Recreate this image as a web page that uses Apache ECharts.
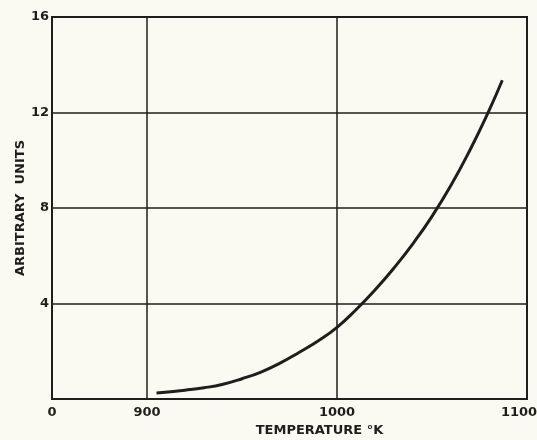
<!DOCTYPE html>
<html>
<head>
<meta charset="utf-8">
<script src="https://cdn.jsdelivr.net/npm/echarts@6/dist/echarts.min.js"></script>
<style>
  html, body { margin: 0; padding: 0; background: #fbfaf2; }
  #chart { width: 537px; height: 440px; }
</style>
</head>
<body>
<div id="chart"></div>
<script>
// Temperature (K) and signal (arbitrary units) along the curve
const temperatures = [905, 920, 930, 940, 950, 960, 970, 980, 990, 1000, 1010, 1020, 1030, 1040, 1050, 1060, 1070, 1080, 1087];
const signal       = [0.25, 0.37, 0.47, 0.62, 0.85, 1.13, 1.5, 1.95, 2.43, 3.0, 3.74, 4.57, 5.49, 6.51, 7.65, 8.95, 10.43, 12.08, 13.35];

// Axis labels
const xTickLabels = { 850: '0', 900: '900', 1000: '1000', 1100: '{edge|1100}' };
const xGridValues = [900, 1000];
const yTickLabels = { 4: '4', 8: '8', 12: '12', 16: '16' };

const ink = '#1e1e1c';
const labelFont = { color: ink, fontFamily: 'DejaVu Sans', fontWeight: 'bold', fontSize: 13 };

const chart = echarts.init(document.getElementById('chart'), null, { renderer: 'canvas' });
chart.setOption({
  backgroundColor: '#fbfaf2',
  animation: false,
  grid: {
    left: 52, right: 10, top: 17, bottom: 41,
    outerBoundsMode: 'none',
    containLabel: false,
    show: true, borderColor: ink, borderWidth: 2, backgroundColor: 'transparent'
  },
  xAxis: {
    type: 'value',
    min: 850, max: 1100, interval: 50,
    name: 'TEMPERATURE °K',
    nameLocation: 'middle',
    nameGap: 24,
    nameTextStyle: Object.assign({}, labelFont, { fontSize: 13, padding: [0, 0, 0, 60] }),
    axisLine: { show: true, lineStyle: { color: ink, width: 2 } },
    axisTick: { show: false },
    splitLine: { show: false },
    axisLabel: Object.assign({}, labelFont, {
      margin: 7,
      formatter: v => xTickLabels[v] || '',
      rich: {
        edge: Object.assign({}, labelFont, { padding: [0, 16, 0, 0] })
      }
    })
  },
  yAxis: {
    type: 'value',
    min: 0, max: 16, interval: 4,
    name: 'ARBITRARY  UNITS',
    nameLocation: 'middle',
    nameGap: 25,
    nameMoveOverlap: false,
    nameTextStyle: Object.assign({}, labelFont, { fontSize: 13 }),
    axisLine: { show: true, lineStyle: { color: ink, width: 2 } },
    axisTick: { show: false },
    splitLine: { show: true, lineStyle: { color: ink, width: 1.5 } },
    axisLabel: Object.assign({}, labelFont, {
      margin: 3,
      formatter: v => yTickLabels[v] || ''
    })
  },
  series: [{
    type: 'line',
    data: temperatures.map((t, i) => [t, signal[i]]),
    smooth: 0.5,
    showSymbol: false,
    lineStyle: { color: ink, width: 3 },
    markLine: {
      silent: true,
      symbol: 'none',
      label: { show: false },
      lineStyle: { color: ink, width: 1.5, type: 'solid' },
      data: xGridValues.map(v => ({ xAxis: v }))
    }
  }]
});
</script>
</body>
</html>
